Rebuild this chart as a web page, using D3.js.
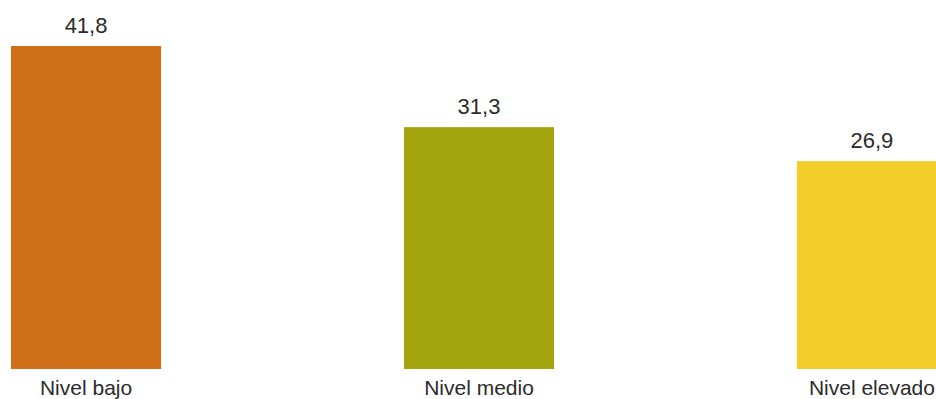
<!DOCTYPE html>
<html>
<head>
<meta charset="utf-8">
<script src="https://cdn.jsdelivr.net/npm/d3@7"></script>
<style>
  body { margin: 0; background: #fff; overflow: hidden; }
  svg { display: block; font-family: "Liberation Sans", Arial, sans-serif; }
</style>
</head>
<body>
<div id="chart"></div>
<script>
const categories = ["Nivel bajo", "Nivel medio", "Nivel elevado"];
const values = [41.8, 31.3, 26.9];
const colors = ["#cf6f18", "#a5a60f", "#f3cd2a"];

const width = 936, height = 399;

const svg = d3.select("#chart")
  .append("svg")
  .attr("width", width)
  .attr("height", height);

const x = d3.scaleBand()
  .domain(categories)
  .range([11, 947])
  .paddingInner(0.618)
  .paddingOuter(0);

const y = d3.scaleLinear()
  .domain([0, 41.8])
  .range([369, 46]);

const fmt = d => d.toFixed(1).replace(".", ",");

svg.selectAll("rect.bar")
  .data(values)
  .enter()
  .append("rect")
  .attr("class", "bar")
  .attr("x", (d, i) => x(categories[i]))
  .attr("y", d => y(d))
  .attr("width", x.bandwidth())
  .attr("height", d => y(0) - y(d))
  .attr("fill", (d, i) => colors[i]);

svg.selectAll("text.val")
  .data(values)
  .enter()
  .append("text")
  .attr("class", "val")
  .attr("x", (d, i) => x(categories[i]) + x.bandwidth() / 2)
  .attr("y", d => y(d) - 13)
  .attr("text-anchor", "middle")
  .attr("font-size", "22px")
  .attr("fill", "#2b2b2b")
  .text(fmt);

svg.selectAll("text.cat")
  .data(categories)
  .enter()
  .append("text")
  .attr("class", "cat")
  .attr("x", d => x(d) + x.bandwidth() / 2)
  .attr("y", 395)
  .attr("text-anchor", "middle")
  .attr("font-size", "21px")
  .attr("fill", "#2b2b2b")
  .text(d => d);
</script>
</body>
</html>
